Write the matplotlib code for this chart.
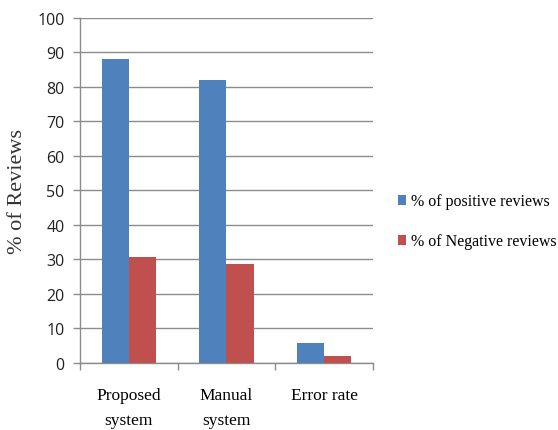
import matplotlib.pyplot as plt
import numpy as np

categories = ["Proposed\nsystem", "Manual\nsystem", "Error rate"]
positive = [88, 82, 5.7]
negative = [30.8, 28.5, 2.1]
series_names = ["% of positive reviews", "% of Negative reviews"]

blue = "#4f81bd"
red = "#c0504d"

fig = plt.figure(figsize=(5.58, 4.31), dpi=100)
ax = fig.add_axes([0.1434, 0.156, 0.525, 0.80])

x = np.arange(len(categories))
w = 0.28
ax.bar(x - w / 2, positive, w, color=blue, label=series_names[0], zorder=3)
ax.bar(x + w / 2, negative, w, color=red, label=series_names[1], zorder=3)

ax.set_xlim(-0.5, 2.5)
ax.set_ylim(0, 100)
ax.set_yticks(range(0, 101, 10))
ax.yaxis.grid(True, color="#8c8c8c", linewidth=1.0, zorder=0)
ax.set_axisbelow(True)

for side in ["top", "right"]:
    ax.spines[side].set_visible(False)
ax.spines["left"].set_color("#8c8c8c")
ax.spines["bottom"].set_color("#8c8c8c")
ax.spines["left"].set_linewidth(1.0)
ax.spines["bottom"].set_linewidth(1.0)

ax.tick_params(axis="y", colors="#8c8c8c", length=5, width=1.0, labelcolor="#222222",
               labelsize=11.5, pad=6)
for lab in ax.get_yticklabels():
    lab.set_family("Open Sans")

# category ticks sit between the groups
ax.set_xticks([-0.5, 0.5, 1.5, 2.5])
ax.set_xticklabels([])
ax.tick_params(axis="x", colors="#8c8c8c", length=5, width=1.0)
for i, c in enumerate(categories):
    ax.text(i, -7.0, c, ha="center", va="top", fontsize=12.5,
            family="Liberation Serif", linespacing=1.75)

fig.text(0.032, 0.555, "% of Reviews", rotation=90, ha="center", va="center",
         family="Liberation Serif", fontsize=16, color="#333333")

ax.legend(loc="center left", bbox_to_anchor=(1.035, 0.41), frameon=False,
          prop={"family": "Liberation Serif", "size": 11.5},
          handlelength=0.55, handleheight=0.55, handletextpad=0.3,
          labelspacing=1.5)

fig.savefig("out.png", dpi=100)
